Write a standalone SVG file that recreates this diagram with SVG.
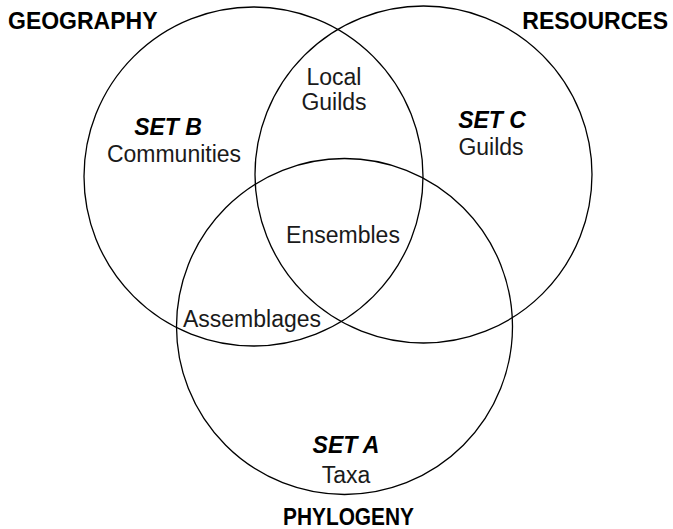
<svg xmlns="http://www.w3.org/2000/svg" width="673" height="529" viewBox="0 0 673 529">
<style>
.c{fill:none;stroke:#000;stroke-width:1.3}
.h{font-family:"Liberation Sans",Arial,sans-serif;font-weight:bold;font-size:23px;fill:#000}
.t{font-family:"Liberation Sans",Arial,sans-serif;font-size:23px;fill:#1a1a1a}
.s{font-family:"Liberation Sans",Arial,sans-serif;font-weight:bold;font-style:italic;font-size:23px;fill:#000}
</style>
<rect width="673" height="529" fill="#fff"/>
<g id="set-b">
<circle class="c" cx="253.5" cy="176.5" r="169.5"/>
<text class="s" x="168" y="135" text-anchor="middle">SET B</text>
<text class="t" x="174" y="162" text-anchor="middle">Communities</text>
</g>
<g id="set-c">
<circle class="c" cx="423.5" cy="174.5" r="168.5"/>
<text class="s" x="492" y="128" text-anchor="middle">SET C</text>
<text class="t" x="491" y="155" text-anchor="middle">Guilds</text>
</g>
<g id="set-a">
<circle class="c" cx="344.5" cy="326.5" r="168"/>
<text class="s" x="346" y="453" text-anchor="middle">SET A</text>
<text class="t" x="346" y="483" text-anchor="middle">Taxa</text>
</g>
<g id="local-guilds">
<text class="t" x="334" y="85" text-anchor="middle">Local</text>
<text class="t" x="334" y="110" text-anchor="middle">Guilds</text>
</g>
<g id="ensembles"><text class="t" x="343" y="243" text-anchor="middle">Ensembles</text></g>
<g id="assemblages"><text class="t" x="252" y="327" text-anchor="middle">Assemblages</text></g>
<g id="labels">
<text class="h" x="8" y="29">GEOGRAPHY</text>
<text class="h" x="668" y="29" text-anchor="end">RESOURCES</text>
<text class="h" x="283" y="525" textLength="131" lengthAdjust="spacingAndGlyphs">PHYLOGENY</text>
</g>
<g id="connectors"/>
</svg>
